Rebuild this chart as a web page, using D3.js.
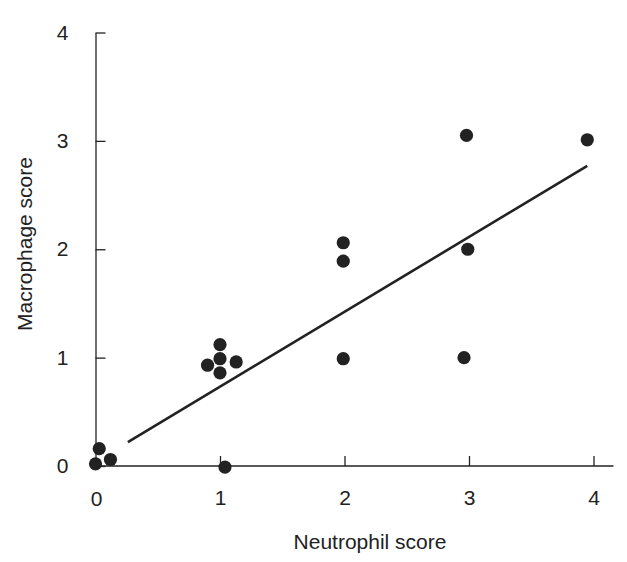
<!DOCTYPE html>
<html>
<head>
<meta charset="utf-8">
<style>
  body { margin: 0; background: #fff; }
  text { font-family: "Liberation Sans", Arial, sans-serif; fill: #222; }
</style>
</head>
<body>
<script src="https://d3js.org/d3.v7.min.js"></script>
<script>
// neutrophil score (x) and macrophage score (y) for each sample
var neutrophil = [0.00, 0.03, 0.12, 1.04, 1.00, 1.00, 0.90, 1.13, 1.00, 1.99, 1.99, 1.99, 2.96, 2.98, 2.99, 3.95];
var macrophage = [0.02, 0.16, 0.06, -0.01, 1.12, 0.99, 0.93, 0.96, 0.86, 2.06, 1.89, 0.99, 1.00, 3.05, 2.00, 3.01];
// fitted regression line end points
var fitX = [0.26, 3.95];
var fitY = [0.22, 2.77];
var xTicks = [0, 1, 2, 3, 4];
var yTicks = [0, 1, 2, 3, 4];

var width = 627, height = 562;
var svg = d3.select("body").append("svg")
    .attr("width", width)
    .attr("height", height);

var x = d3.scaleLinear().domain([0, 4]).range([95.5, 593.5]);
var y = d3.scaleLinear().domain([0, 4]).range([466, 32.5]);
var fmt = d3.format("d");

// x axis, ticks point inward
var xAxis = svg.append("g")
    .attr("transform", "translate(0," + y(0) + ")")
    .call(d3.axisBottom(x).tickValues(xTicks.slice(1)).tickFormat(fmt)
        .tickSizeInner(-10).tickSizeOuter(0).tickPadding(24));
xAxis.select(".domain").remove();
xAxis.append("line")
    .attr("x1", x(0)).attr("x2", x(4.16))
    .attr("stroke", "#222").attr("stroke-width", 1.3);
xAxis.selectAll(".tick line").attr("stroke", "#222").attr("stroke-width", 1.3);
xAxis.selectAll(".tick text").style("font-size", "21px").style("fill", "#222");
svg.append("text")
    .attr("x", x(0) + 1).attr("y", 506)
    .attr("text-anchor", "middle")
    .style("font-size", "21px")
    .text(fmt(xTicks[0]));

// y axis
var yAxis = svg.append("g")
    .attr("transform", "translate(" + x(0) + ",0)")
    .call(d3.axisLeft(y).tickValues(yTicks).tickFormat(fmt)
        .tickSizeInner(-10).tickSizeOuter(0).tickPadding(27));
yAxis.select(".domain").attr("stroke", "#222").attr("stroke-width", 1.3);
yAxis.selectAll(".tick line").attr("stroke", "#222").attr("stroke-width", 1.3);
yAxis.selectAll(".tick text").style("font-size", "21px").style("fill", "#222");

// regression line
svg.append("line")
    .attr("x1", x(fitX[0])).attr("y1", y(fitY[0]))
    .attr("x2", x(fitX[1])).attr("y2", y(fitY[1]))
    .attr("stroke", "#222")
    .attr("stroke-width", 2.6);

// points
svg.selectAll(".dot")
    .data(d3.range(neutrophil.length))
    .enter().append("circle")
    .attr("class", "dot")
    .attr("cx", function(i) { return x(neutrophil[i]); })
    .attr("cy", function(i) { return y(macrophage[i]); })
    .attr("r", 6.6)
    .attr("fill", "#222");

// axis titles
svg.append("text")
    .attr("x", 370).attr("y", 549)
    .attr("text-anchor", "middle")
    .style("font-size", "21px")
    .text("Neutrophil score");

svg.append("text")
    .attr("transform", "translate(32,244) rotate(-90)")
    .attr("text-anchor", "middle")
    .style("font-size", "21px")
    .text("Macrophage score");
</script>
</body>
</html>
